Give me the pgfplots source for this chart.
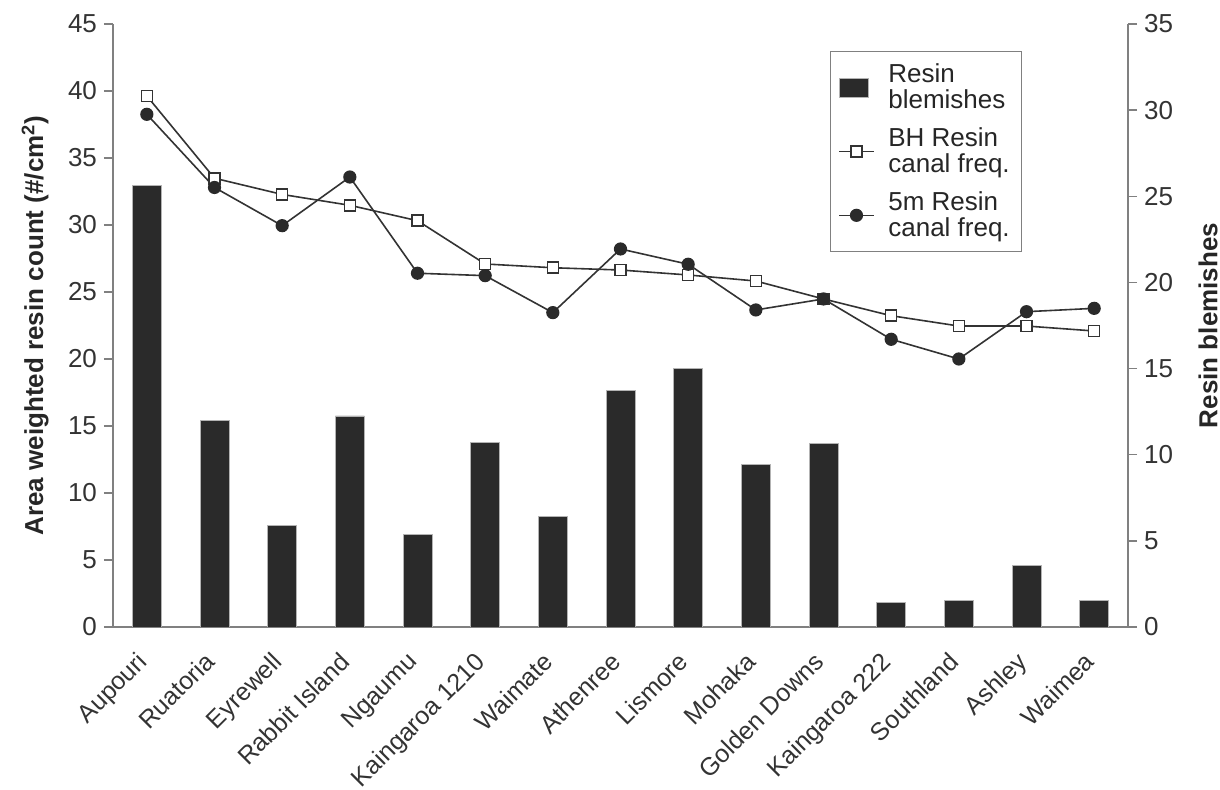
\documentclass[border=0pt]{standalone}
\usepackage{pgfplots}
\pgfplotsset{compat=1.18}
\usepackage{pgfplotstable}
\usepackage{fontspec}
\setmainfont{Liberation Sans}
\definecolor{axisgray}{HTML}{808080}
\definecolor{txt}{HTML}{333333}
\definecolor{barfill}{HTML}{2A2A2A}
\definecolor{linec}{HTML}{333333}

\pgfplotstableread{
x bh fm
0 39.63 38.26
1 33.49 32.80
2 32.28 29.95
3 31.47 33.58
4 30.32 26.40
5 27.09 26.22
6 26.81 23.46
7 26.64 28.21
8 26.27 27.07
9 25.82 23.66
10 24.48 24.48
11 23.23 21.47
12 22.46 20.00
13 22.46 23.53
14 22.09 23.78
}\canaltable

\pgfplotstableread{
x bl
0 25.65
1 12.00
2 5.90
3 12.25
4 5.35
5 10.70
6 6.40
7 13.75
8 15.00
9 9.45
10 10.65
11 1.45
12 1.55
13 3.55
14 1.55
}\blemtable

\begin{document}
\begin{tikzpicture}
\pgfplotsset{
  every axis/.append style={
    scale only axis, width=507.5pt, height=301.5pt,
    xmin=-0.5, xmax=14.5,
    axis line style={axisgray, line width=0.75pt},
    tick style={axisgray, line width=0.75pt},
    tick align=outside,
    major tick length=4.5pt,
    minor tick length=5.5pt,
    tick label style={font=\fontsize{13}{15}\selectfont, text=txt},
    label style={font=\bfseries\fontsize{13}{15}\selectfont, text=black!85},
    /pgf/number format/assume math mode=true,
  }
}
\begin{axis}[
  axis x line*=bottom, axis y line*=left,
  ymin=0, ymax=45, ytick={0,5,...,45},
  xtick={0,...,14},
  xtick style={draw=none},
  minor xtick={-0.5,0.5,...,14.5},
  xticklabels={Aupouri,Ruatoria,Eyrewell,Rabbit Island,Ngaumu,Kaingaroa 1210,Waimate,Athenree,Lismore,Mohaka,Golden Downs,Kaingaroa 222,Southland,Ashley,Waimea},
  xticklabel style={rotate=45, anchor=north east, inner sep=0pt, yshift=-1pt, xshift=-9pt, font=\fontsize{12.5}{15}\selectfont},
  ylabel={Area weighted resin count (\#/cm\textsuperscript{2})},
  ylabel style={at={(axis description cs:-0.0768,0.5)}, anchor=center},
]
\addplot[linec, line width=0.8pt, mark=square*, mark size=2.75pt, mark options={fill=white, draw=linec, line width=0.8pt}] table[x=x, y=bh] {\canaltable};
\addplot[linec, line width=0.8pt, mark=*, mark size=2.9pt, mark options={fill=barfill, draw=barfill}] table[x=x, y=fm] {\canaltable};
\end{axis}
\begin{axis}[
  axis x line=none, axis y line*=right,
  ymin=0, ymax=35, ytick={0,5,...,35},
  ylabel={Resin blemishes},
  ylabel style={at={(axis description cs:1.0788,0.5)}, anchor=center},
  legend style={at={(0.7064,0.955)}, anchor=north west, draw=axisgray, line width=0.6pt,
    font=\fontsize{13}{13}\selectfont, text=black!85, cells={align=left}, row sep=4pt,
    column sep=5pt, inner xsep=4pt, inner ysep=4pt},
  legend cell align=left,
]
\addplot[ybar, bar width=14.5pt, fill=barfill, draw=axisgray!60, line width=0.4pt,
  legend image code/.code={\draw[fill=barfill, draw=axisgray!60, line width=0.4pt] (0pt,-4.75pt) rectangle (14.5pt,4.75pt);}] table[x=x, y=bl] {\blemtable};
\addlegendentry{Resin\\blemishes}
\addlegendimage{linec, line width=0.8pt, mark=square*, mark size=2.75pt, mark options={fill=white, draw=linec, line width=0.8pt}}
\addlegendentry{BH Resin\\canal freq.}
\addlegendimage{linec, line width=0.8pt, mark=*, mark size=2.9pt, mark options={fill=barfill, draw=barfill}}
\addlegendentry{5m Resin\\canal freq.}
\end{axis}
\pgfresetboundingbox
\path[use as bounding box] (-56.5pt,-81.5pt) rectangle (553.5pt,313.5pt);
\end{tikzpicture}
\end{document}
